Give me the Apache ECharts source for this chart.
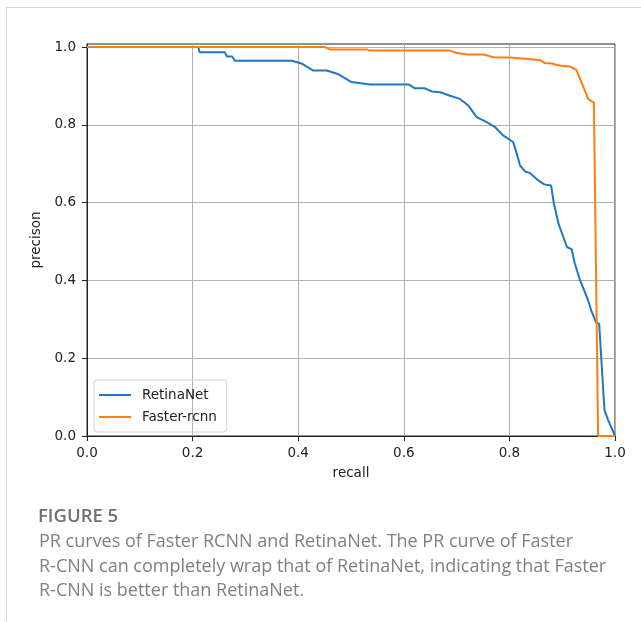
<!DOCTYPE html>
<html>
<head>
<meta charset="utf-8">
<script src="https://cdn.jsdelivr.net/npm/echarts@6/dist/echarts.min.js"></script>
<style>
html,body{margin:0;padding:0;background:#fff;}
#frame{position:absolute;left:6px;top:7px;width:640px;height:620px;border-left:1px solid #d9d9d9;border-top:1px solid #d9d9d9;}
#chart{position:absolute;left:0;top:0;width:641px;height:622px;}
</style>
</head>
<body>
<div id="frame"></div>
<div id="chart"></div>
<script>
const seriesNames = ['RetinaNet', 'Faster-rcnn'];
const retinaRecall = [0, 0.211, 0.213, 0.261, 0.265, 0.275, 0.28, 0.388, 0.406, 0.428, 0.454, 0.475, 0.501, 0.536, 0.609, 0.621, 0.640, 0.653, 0.669, 0.6875, 0.706, 0.722, 0.738, 0.757, 0.773, 0.788, 0.807, 0.814, 0.820, 0.830, 0.839, 0.852, 0.866, 0.879, 0.884, 0.893, 0.909, 0.918, 0.924, 0.934, 0.943, 0.949, 0.956, 0.964, 0.970, 0.975, 0.980, 0.987, 1.0];
const retinaPrecision = [1.0, 1.0, 0.987, 0.987, 0.976, 0.976, 0.965, 0.965, 0.958, 0.940, 0.940, 0.931, 0.910, 0.904, 0.904, 0.894, 0.894, 0.886, 0.884, 0.875, 0.867, 0.850, 0.820, 0.807, 0.794, 0.773, 0.756, 0.726, 0.696, 0.680, 0.676, 0.660, 0.647, 0.644, 0.600, 0.546, 0.486, 0.480, 0.443, 0.400, 0.370, 0.349, 0.319, 0.293, 0.288, 0.178, 0.067, 0.041, 0.0];
const fasterRecall = [0, 0.451, 0.460, 0.530, 0.535, 0.6875, 0.700, 0.722, 0.751, 0.770, 0.801, 0.830, 0.858, 0.867, 0.880, 0.890, 0.899, 0.915, 0.927, 0.934, 0.943, 0.949, 0.956, 0.960, 0.968, 1.0];
const fasterPrecision = [1.0, 1.0, 0.994, 0.994, 0.991, 0.991, 0.985, 0.981, 0.981, 0.974, 0.973, 0.970, 0.967, 0.959, 0.958, 0.954, 0.952, 0.950, 0.941, 0.918, 0.888, 0.867, 0.860, 0.858, 0.0, 0.0];
const tickValues = [0, 0.2, 0.4, 0.6, 0.8, 1.0];
const xAxisTitle = 'recall';
const yAxisTitle = 'precison';
const captionTitle = 'FIGURE 5';
const captionLines = [
  'PR curves of Faster RCNN and RetinaNet. The PR curve of Faster',
  'R-CNN can completely wrap that of RetinaNet, indicating that Faster',
  'R-CNN is better than RetinaNet.'
];

const zip = (xs, ys) => xs.map((x, i) => [x, ys[i]]);
const tickFont = {fontFamily: 'DejaVu Sans', fontSize: 13.5, color: '#222'};
const isTick = v => tickValues.some(t => Math.abs(t - v) < 1e-6);

const chart = echarts.init(document.getElementById('chart'), null, {renderer: 'canvas'});
chart.setOption({
  backgroundColor: 'transparent',
  animation: false,
  grid: {left: 87, right: 26, top: 44, bottom: 186, show: true, borderColor: '#222', borderWidth: 1, backgroundColor: 'transparent'},
  legend: {
    data: seriesNames.map(n => ({name: n, icon: 'rect'})),
    orient: 'vertical', left: 94, top: 380,
    padding: [8, 10, 8, 5],
    itemWidth: 32, itemHeight: 2, itemGap: 8,
    borderColor: '#d0d0d0', borderWidth: 1, borderRadius: 3,
    textStyle: {fontFamily: 'DejaVu Sans', fontSize: 13.5, lineHeight: 14, color: '#222', padding: [0, 0, 0, 6]}
  },
  xAxis: {
    type: 'value', min: 0, max: 1, interval: 0.2,
    name: xAxisTitle, nameLocation: 'middle', nameGap: 30,
    nameTextStyle: {fontFamily: 'DejaVu Sans', fontSize: 13.5, color: '#222'},
    axisLine: {show: true, onZero: false, lineStyle: {color: '#222', width: 1}},
    axisTick: {show: true, inside: false, length: 5, lineStyle: {color: '#222'}},
    axisLabel: Object.assign({margin: 10, formatter: v => v.toFixed(1)}, tickFont),
    splitLine: {show: true, lineStyle: {color: '#b0b0b0', width: 1}}
  },
  yAxis: {
    type: 'value', min: 0, max: 1.008, interval: 0.2,
    name: yAxisTitle, nameLocation: 'middle', nameGap: 42, nameRotate: 90,
    nameTextStyle: {fontFamily: 'DejaVu Sans', fontSize: 13.5, color: '#222'},
    axisLine: {show: true, onZero: false, lineStyle: {color: '#222', width: 1}},
    axisTick: {show: true, inside: false, length: 5, lineStyle: {color: '#222'}, customValues: tickValues},
    axisLabel: Object.assign({margin: 11, customValues: tickValues, formatter: v => isTick(v) ? v.toFixed(1) : ''}, tickFont),
    splitLine: {show: true, lineStyle: {color: '#b0b0b0', width: 1}}
  },
  series: [
    {name: seriesNames[0], type: 'line', data: zip(retinaRecall, retinaPrecision), symbol: 'none', color: '#1f77c4', lineStyle: {width: 2, color: '#1f77c4'}},
    {name: seriesNames[1], type: 'line', data: zip(fasterRecall, fasterPrecision), symbol: 'none', color: '#ff7f0e', lineStyle: {width: 2, color: '#ff7f0e'}}
  ],
  graphic: [
    {type: 'text', left: 38, top: 507, style: {text: captionTitle, fontFamily: 'Open Sans', fontSize: 18.5, fontWeight: 600, fill: '#707070'}},
    {type: 'text', left: 39, top: 530, style: {text: captionLines.join('\n'), fontFamily: 'Open Sans', fontSize: 18, lineHeight: 24.5, fill: '#808080'}}
  ]
});
</script>
</body>
</html>
